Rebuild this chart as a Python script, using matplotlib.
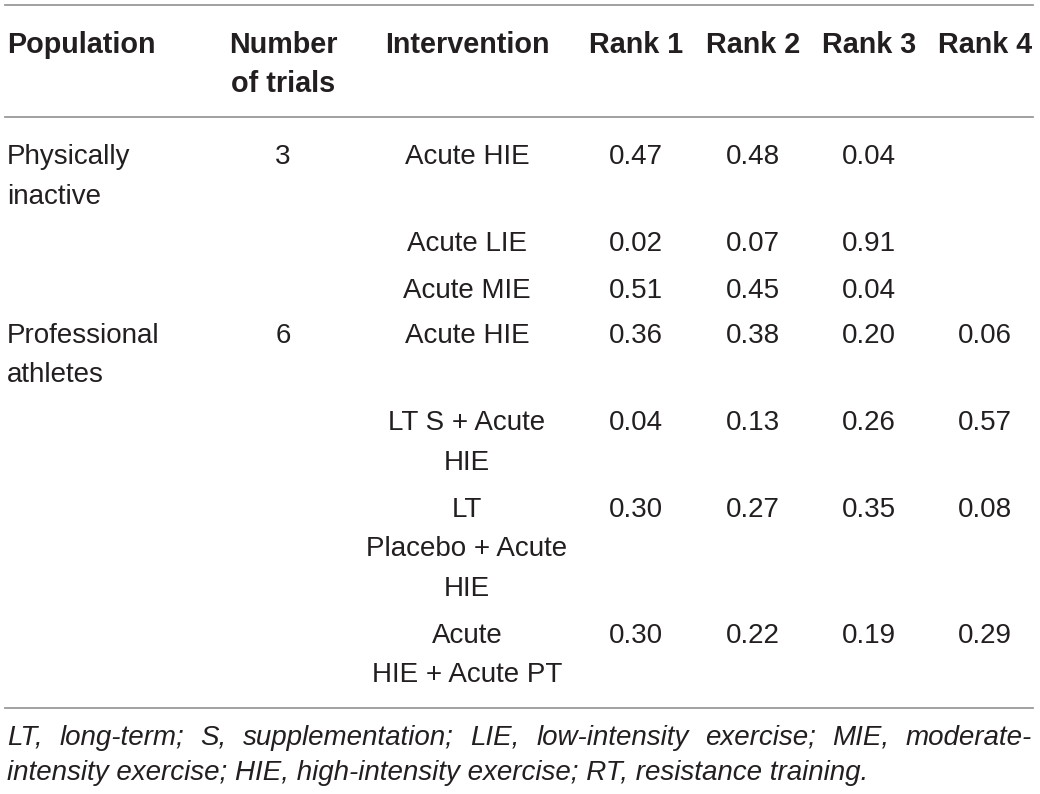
import matplotlib
matplotlib.use("Agg")
import matplotlib.pyplot as plt
from matplotlib.lines import Line2D

# ---- data ----
header_cols = ["Population", "Number\nof trials", "Intervention", "Rank 1", "Rank 2", "Rank 3", "Rank 4"]
populations = ["Physically\ninactive", "Professional\nathletes"]
n_trials = ["3", "6"]
pop_row_index = [0, 3]
interventions = ["Acute HIE", "Acute LIE", "Acute MIE", "Acute HIE",
                 "LT S + Acute\nHIE", "LT\nPlacebo + Acute\nHIE", "Acute\nHIE + Acute PT"]
rank1 = ["0.47", "0.02", "0.51", "0.36", "0.04", "0.30", "0.30"]
rank2 = ["0.48", "0.07", "0.45", "0.38", "0.13", "0.27", "0.22"]
rank3 = ["0.04", "0.91", "0.04", "0.20", "0.26", "0.35", "0.19"]
rank4 = ["", "", "", "0.06", "0.57", "0.08", "0.29"]
footnote_line1 = "LT, long-term; S, supplementation; LIE, low-intensity exercise; MIE, moderate-"
footnote_line2 = "intensity exercise; HIE, high-intensity exercise; RT, resistance training."

# ---- layout (pixels) ----
W, H = 1040, 794
fig = plt.figure(figsize=(W / 100, H / 100), dpi=100)
fig.patch.set_facecolor("white")

def P(x, y):
    return x / W, 1 - y / H

FONT = ["Liberation Sans", "DejaVu Sans"]
TXT = "#231f20"
FS = 20
FS_HEAD = 20.7
LINE_STEP = 39.5

col_x = [7, 283, 467, 636, 753, 869, 985]
row_base = [164, 251, 298, 343, 430, 517, 643]

def draw(text, x, y, ha="center", weight="normal", style="normal", fs=FS):
    for i, line in enumerate(text.split("\n")):
        fig.text(*P(x, y + i * LINE_STEP), line, ha=ha, va="baseline",
                 fontsize=fs, family=FONT, color=TXT, fontweight=weight, fontstyle=style)

# rules
for yy in [5, 117, 708]:
    fig.add_artist(Line2D([5 / W, 1033 / W], [1 - yy / H, 1 - yy / H],
                          color="#9a9a9a", lw=1.3, transform=fig.transFigure))

# header
for j, h in enumerate(header_cols):
    draw(h, col_x[j], 53, ha="left" if j == 0 else "center", weight="bold", fs=FS_HEAD)

# body
for k, r in enumerate(pop_row_index):
    draw(populations[k], col_x[0], row_base[r], ha="left")
    draw(n_trials[k], col_x[1], row_base[r])
for i in range(len(interventions)):
    draw(interventions[i], col_x[2], row_base[i])
    for j, col in enumerate([rank1, rank2, rank3, rank4]):
        if col[i]:
            draw(col[i], col_x[3 + j], row_base[i])

# footnote, line 1 justified
renderer = fig.canvas.get_renderer()
words = footnote_line1.split(" ")
arts = [fig.text(0, 0, w, ha="left", va="baseline", fontsize=FS, family=FONT,
                 color=TXT, fontstyle="italic") for w in words]
widths = [a.get_window_extent(renderer).width for a in arts]
left, right = 7, 1032
gap = (right - left - sum(widths)) / (len(words) - 1)
x = left
for a, w in zip(arts, widths):
    a.set_position(P(x, 745))
    x += w + gap
fig.text(*P(7, 780), footnote_line2, ha="left", va="baseline", fontsize=FS,
         family=FONT, color=TXT, fontstyle="italic")

fig.savefig("out.png", dpi=100, facecolor="white")
